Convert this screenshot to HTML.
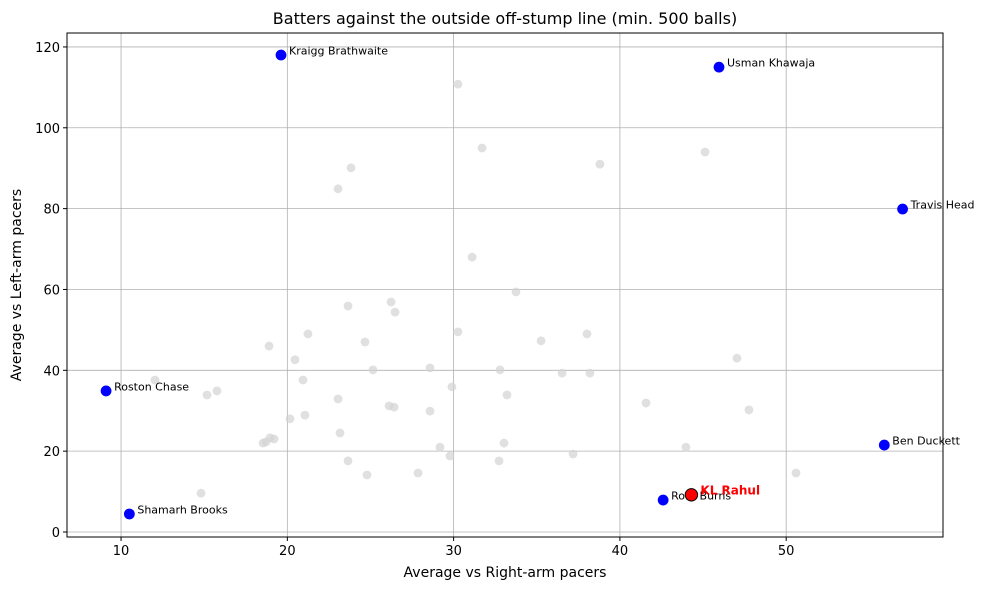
<!DOCTYPE html>
<html><head><meta charset="utf-8"><style>
body{margin:0;background:#fff;}
svg{display:block;font-family:"DejaVu Sans","Liberation Sans",sans-serif;}
</style></head><body>
<svg id="chart" width="986" height="590"></svg>
<script>
const grayX=[30.26,31.71,23.83,23.05,38.80,45.12,31.11,33.75,23.65,26.24,26.48,30.26,21.24,35.26,38.02,18.90,24.67,20.46,28.58,25.15,47.04,36.52,38.20,32.79,12.04,15.77,15.17,20.94,29.90,33.21,23.05,26.12,26.42,41.57,47.76,28.58,21.06,20.16,23.17,18.96,19.20,18.72,18.54,33.03,29.18,43.97,37.18,29.78,23.65,32.73,27.86,24.79,50.59,14.81];
const grayY=[110.8,95.0,90.1,84.9,91.0,94.0,68.0,59.4,55.9,56.9,54.4,49.5,49.0,47.3,49.0,46.0,47.0,42.6,40.6,40.1,43.0,39.3,39.3,40.1,37.6,34.9,33.9,37.6,35.9,33.9,32.9,31.2,30.9,31.9,30.2,29.9,28.9,28.0,24.5,23.3,23.0,22.3,22.0,22.0,21.0,21.0,19.3,18.8,17.6,17.6,14.6,14.1,14.6,9.6];
const names=["Kraigg Brathwaite","Usman Khawaja","Travis Head","Roston Chase","Ben Duckett","Shamarh Brooks","Rory Burns"];
const hiX=[19.62,45.96,57.0,9.1,55.9,10.5,42.6];
const hiY=[118,115,79.9,34.9,21.5,4.45,7.9];
const rahul=[44.3,9.2];
const xTicks=[10,20,30,40,50];
const yTicks=[0,20,40,60,80,100,120];

const L=67,R=943,T=33,B=537;
const xmin=6.75,xmax=59.43,ymin=-1.24,ymax=123.45;
const sx=v=>L+(v-xmin)/(xmax-xmin)*(R-L);
const sy=v=>B-(v-ymin)/(ymax-ymin)*(B-T);
const svg=document.getElementById('chart');
const NS='http://www.w3.org/2000/svg';
function mk(tag,attrs,parent){const e=document.createElementNS(NS,tag);for(const k in attrs)e.setAttribute(k,attrs[k]);(parent||svg).appendChild(e);return e;}

xTicks.forEach(t=>{
  const g=mk('line',{x1:sx(t),x2:sx(t),y1:T,y2:B,stroke:'#b0b0b0','stroke-width':0.8});
  
  
  mk('line',{x1:sx(t),x2:sx(t),y1:B,y2:B+4,stroke:'#000'});
  const tx=mk('text',{x:sx(t),y:B+18,'text-anchor':'middle','font-size':13});
  tx.textContent=t;
  
  
});
yTicks.forEach(t=>{
  const g=mk('line',{x1:L,x2:R,y1:sy(t),y2:sy(t),stroke:'#b0b0b0','stroke-width':0.8});
  
  
  mk('line',{x1:L-4,x2:L,y1:sy(t),y2:sy(t),stroke:'#000'});
  const tx=mk('text',{x:L-7,y:sy(t)+5,'text-anchor':'end','font-size':13});
  tx.textContent=t;
  
  
});
grayX.forEach((x,i)=>{
  const c=mk('circle',{cx:sx(x),cy:sy(grayY[i]),r:4.4,fill:'#d3d3d3','fill-opacity':0.7});
  
  
});
hiX.forEach((x,i)=>{
  const c=mk('circle',{cx:sx(x),cy:sy(hiY[i]),r:5.4,fill:'#0000ff'});
  
  
  const t=mk('text',{x:sx(x)+8,y:sy(hiY[i])-0.5,'font-size':11});
  t.textContent=names[i];
  
  
});
const rc=mk('circle',{cx:sx(rahul[0]),cy:sy(rahul[1]),r:6.2,fill:'#ff0000',stroke:'#000','stroke-width':1});


const rt=mk('text',{x:sx(rahul[0])+9,y:sy(rahul[1])-0.5,'font-size':12,'font-weight':'bold',fill:'#ff0000'});
rt.textContent='KL Rahul';



const fr=mk('rect',{x:L,y:T,width:R-L,height:B-T,fill:'none',stroke:'#000','stroke-width':1});


const ti=mk('text',{x:(L+R)/2,y:24,'text-anchor':'middle','font-size':16});
ti.textContent='Batters against the outside off-stump line (min. 500 balls)';


const xl=mk('text',{x:(L+R)/2,y:577,'text-anchor':'middle','font-size':14});
xl.textContent='Average vs Right-arm pacers';


const yl=mk('text',{x:0,y:0,'text-anchor':'middle','font-size':14,transform:`translate(21,${(T+B)/2}) rotate(-90)`});
yl.textContent='Average vs Left-arm pacers';


</script>
</body></html>
